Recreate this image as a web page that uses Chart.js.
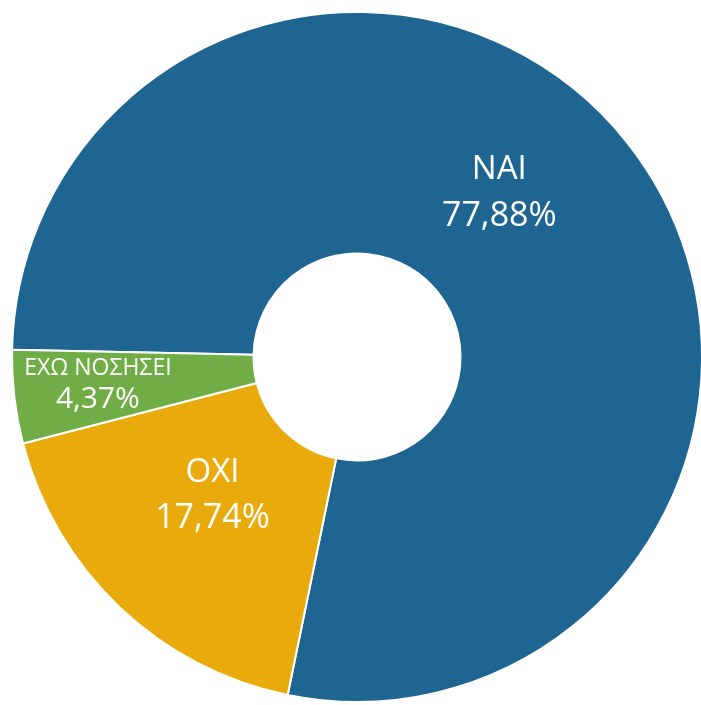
<!DOCTYPE html>
<html>
<head>
<meta charset="utf-8">
<script src="https://cdn.jsdelivr.net/npm/chart.js@4.4.0/dist/chart.umd.min.js"></script>
<style>
html, body { margin:0; padding:0; background:#fff; overflow:hidden; }
#wrap { position:absolute; left:0; top:0; width:714px; height:714px; }
</style>
</head>
<body>
<div id="wrap"><canvas id="pieChart"></canvas></div>
<script>
// answers and their share in percent
const categories = ['ΝΑΙ', 'ΟΧΙ', 'ΕΧΩ ΝΟΣΗΣΕΙ'];
const percents = [77.88, 17.74, 4.37];
const sliceColors = ['#1f6592', '#e9ab0c', '#71ad47'];

/* label placement: angle shift (deg) from slice middle, radius as share of outer radius */
const labelStyle = [
  { shift: -10.5, r: 0.63, size1: 33, size2: 34, gap: 47 },
  { shift: 2.7, r: 0.58, size1: 33, size2: 34, gap: 45 },
  { shift: 0.8, r: 0.755, size1: 23, size2: 30, gap: 31 }
];

const sliceLabels = {
  id: 'sliceLabels',
  afterDatasetsDraw(chart) {
    const ctx = chart.ctx;
    const arcs = chart.getDatasetMeta(0).data;
    ctx.save();
    ctx.fillStyle = '#ffffff';
    ctx.textAlign = 'center';
    ctx.textBaseline = 'middle';
    arcs.forEach((arc, i) => {
      const st = labelStyle[i];
      const mid = (arc.startAngle + arc.endAngle) / 2 + st.shift * Math.PI / 180;
      const rad = arc.outerRadius * st.r;
      const x = arc.x + Math.cos(mid) * rad;
      const y = arc.y + Math.sin(mid) * rad;
      ctx.font = st.size1 + 'px "Open Sans"';
      ctx.fillText(categories[i], x, y - st.gap / 2);
      ctx.font = st.size2 + 'px "Open Sans"';
      ctx.fillText(percents[i].toFixed(2).replace('.', ',') + '%', x, y + st.gap / 2);
    });
    ctx.restore();
  }
};

const ctx = document.getElementById('pieChart');

new Chart(ctx, {
  type: 'doughnut',
  data: {
    labels: categories,
    datasets: [{
      data: percents,
      backgroundColor: sliceColors,
      borderColor: '#ffffff',
      borderWidth: 2
    }]
  },
  options: {
    responsive: true,
    maintainAspectRatio: false,
    animation: false,
    rotation: -88.8,
    cutout: '30%',
    layout: { padding: 11 },
    plugins: {
      legend: { display: false },
      tooltip: { enabled: false }
    }
  },
  plugins: [sliceLabels]
});
</script>
</body>
</html>
